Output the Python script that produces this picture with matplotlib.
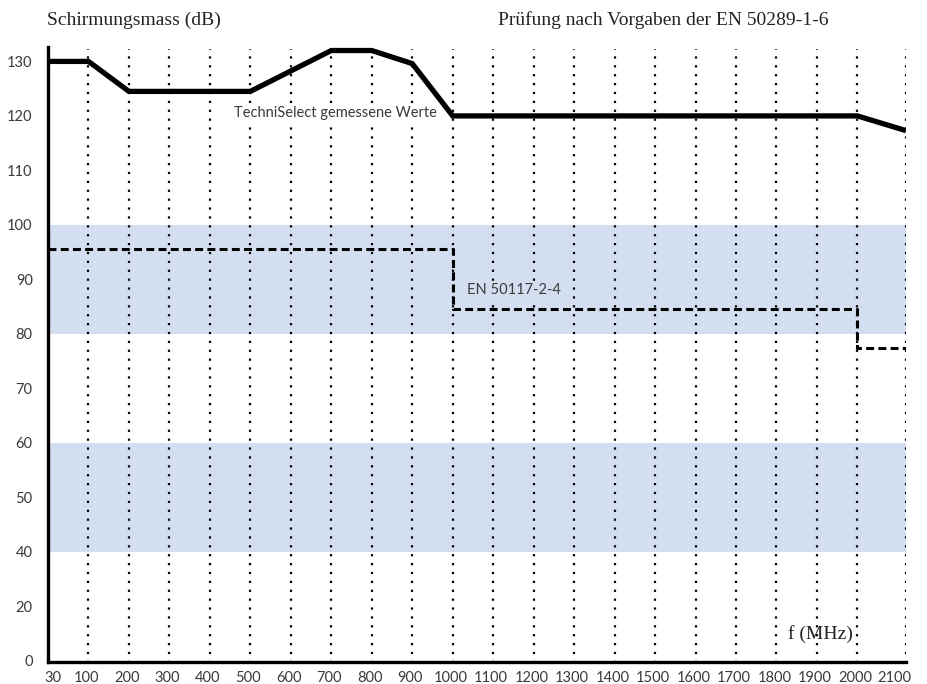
import matplotlib
matplotlib.use("Agg")
import matplotlib.pyplot as plt

# Data
categories = ["30", "100", "200", "300", "400", "500", "600", "700", "800", "900", "1000",
              "1100", "1200", "1300", "1400", "1500", "1600", "1700", "1800", "1900", "2000", "2100"]
measured_freqs = ["30", "100", "200", "500", "700", "800", "900", "1000", "2000", "2100"]
measured_db = [130, 130, 124.5, 124.5, 132, 132, 129.6, 120, 120, 117.3]
norm_freqs = ["30", "1000", "1000", "2000", "2000", "2100"]
norm_db = [95.5, 95.5, 84.5, 84.5, 77.5, 77.5]
bands = [(80, 100), (40, 60)]
ytick_pos = [20, 30, 40, 50, 60, 70, 80, 90, 100, 110, 120, 130]
ytick_labels = ["0", "20", "40", "50", "60", "70", "80", "90", "100", "110", "120", "130"]

# layout: category slot positions (last slot a bit wider in the reference)
slot = list(range(len(categories)))
slot[-1] = len(categories) - 1 + 0.2

BAND = "#d3dff0"
W, H = 928, 684
fig = plt.figure(figsize=(W / 100, H / 100), dpi=100)
ax = fig.add_axes([48 / W, 1 - 662 / H, (906 - 48) / W, (662 - 46.7) / H])

xi = lambda labs: [slot[categories.index(l)] for l in labs]

for lo, hi in bands:
    ax.axhspan(lo, hi, color=BAND, lw=0, zorder=0)

for i in range(1, len(categories)):
    ax.plot([slot[i], slot[i]], [19.6, 132.3], color="black", lw=1.6,
            linestyle=(0, (1, 3)), zorder=1)

ax.plot(xi(measured_freqs), measured_db, color="black", lw=3.8, solid_joinstyle="miter",
        solid_capstyle="butt", zorder=3)
ax.plot(xi(norm_freqs), norm_db, color="black", lw=2.2, linestyle=(0, (2.6, 1.4)), zorder=3)

sans = "Lato"
TICKC = "#3a3a3a"

ax.set_xlim(0, slot[-1])
ax.set_ylim(19.8, 132.7)
ax.set_xticks(slot)
ax.set_xticklabels([])
ax.set_yticks(ytick_pos)
ax.set_yticklabels(ytick_labels)
for lab in ax.get_yticklabels():
    lab.set_fontfamily(sans)
    lab.set_fontsize(10.5)
    lab.set_color(TICKC)
ax.tick_params(axis="x", length=0)
ax.tick_params(axis="y", length=0, pad=11)

for idx, cat in enumerate(categories):
    dx = 5 if idx == 0 else (-12 if idx == len(categories) - 1 else -2)
    ax.annotate(cat, xy=(slot[idx], 0), xycoords=("data", "axes fraction"),
                xytext=(dx * 0.72, -14.2), textcoords="offset points",
                ha="center", va="baseline", fontsize=10.5, family=sans, color=TICKC,
                annotation_clip=False)

for s in ["top", "right"]:
    ax.spines[s].set_visible(False)
ax.spines["left"].set_linewidth(2.4)
ax.spines["bottom"].set_linewidth(2.4)

ax.text(9.62, 120.5, "TechniSelect gemessene Werte", ha="right", va="center",
        fontsize=10.5, family=sans, color=TICKC, zorder=4,
        bbox=dict(facecolor="white", edgecolor="none", pad=1.0))
ax.text(10.35, 88.0, "EN 50117-2-4", ha="left", va="center",
        fontsize=10.5, family=sans, color=TICKC, zorder=4,
        bbox=dict(facecolor=BAND, edgecolor="none", pad=1.0))

serif = "Liberation Serif"
fig.text(47 / W, 1 - 20 / H, "Schirmungsmass (dB)", ha="left", va="center",
         fontsize=14, family=serif, color="#222222")
fig.text(498 / W, 1 - 20 / H, "Prüfung nach Vorgaben der EN 50289-1-6", ha="left", va="center",
         fontsize=14, family=serif, color="#222222")
fig.text(788 / W, 1 - 634 / H, "f (MHz)", ha="left", va="center",
         fontsize=14, family=serif, color="#222222")

fig.savefig("out.png", dpi=100)
